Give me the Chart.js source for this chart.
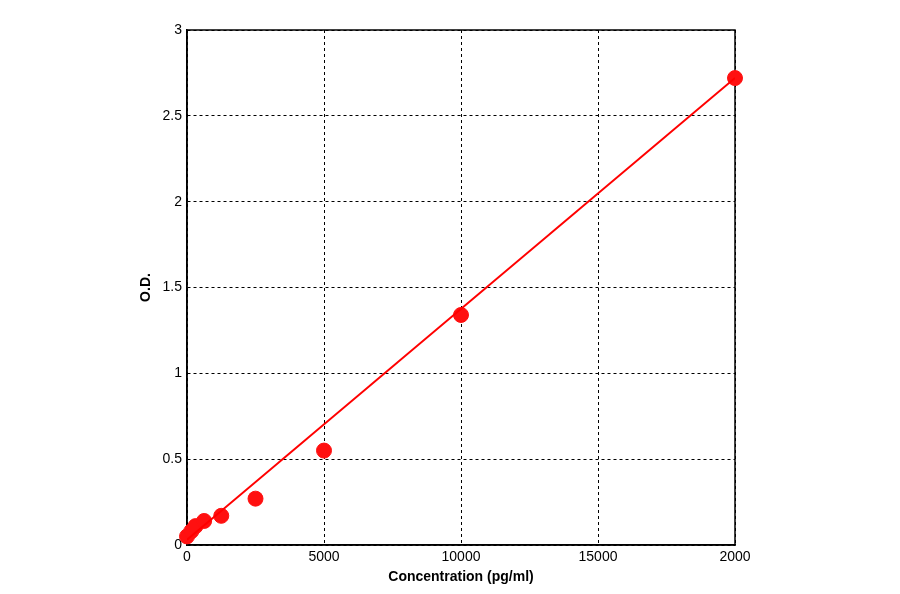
<!DOCTYPE html>
<html><head><script src="https://cdn.jsdelivr.net/npm/chart.js"></script>
<style>html,body{margin:0;background:#fff}#w{width:900px;height:594px}</style></head>
<body><div id="w"><canvas id="c"></canvas></div>
<script>
const concentrations=[0,156,312,625,1250,2500,5000,10000,20000];
const odValues=[0.05,0.08,0.11,0.14,0.17,0.27,0.55,1.34,2.72];
const fitX=[0,20000];
const fitY=[0.03,2.72];
const xTicks=[0,5000,10000,15000,20000];
const yTicks=[0,0.5,1,1.5,2,2.5,3];
const pts=concentrations.map((x,i)=>({x,y:odValues[i]}));
const fit=fitX.map((x,i)=>({x,y:fitY[i]}));
const grid={color:'#000',drawTicks:false,lineWidth:1};
new Chart(document.getElementById('c'),{
type:'scatter',
data:{datasets:[
{type:'line',data:fit,borderColor:'#ff0000',borderWidth:2,pointRadius:0,fill:false},
{data:pts,backgroundColor:'#ff1010',borderColor:'#ff1010',pointRadius:7.5,clip:false}
]},
options:{responsive:true,maintainAspectRatio:false,animation:false,
layout:{padding:{left:138,right:165,top:30,bottom:8}},
plugins:{legend:{display:false},tooltip:{enabled:false}},
scales:{
x:{type:'linear',min:0,max:20000,afterBuildTicks:s=>{s.ticks=xTicks.map(v=>({value:v}))},
 afterFit:s=>{s.height=41},
 grid:grid,border:{color:'#000',width:1.5,dash:[3,3]},
 ticks:{color:'#000',font:{family:'Arial',size:14},padding:4,callback:v=>v===20000?'2000':String(v)},
 title:{display:true,text:'Concentration (pg/ml)',color:'#000',font:{family:'Arial',size:14,weight:'bold'},padding:0}},
y:{type:'linear',min:0,max:3,afterBuildTicks:s=>{s.ticks=yTicks.map(v=>({value:v}))},
 afterFit:s=>{s.width=49},
 grid:grid,border:{color:'#000',width:1.5,dash:[3,3]},
 ticks:{color:'#000',font:{family:'Arial',size:14},padding:5,callback:v=>String(v)},
 title:{display:true,text:'O.D.',color:'#000',font:{family:'Arial',size:14,weight:'bold'},padding:0}}
}},
plugins:[{id:'box',beforeDatasetsDraw(c){const a=c.chartArea,x=c.ctx;x.save();x.strokeStyle='#000';x.lineWidth=1.5;x.setLineDash([]);x.strokeRect(a.left,a.top,a.right-a.left,a.bottom-a.top);x.restore();}}]
});
</script></body></html>
